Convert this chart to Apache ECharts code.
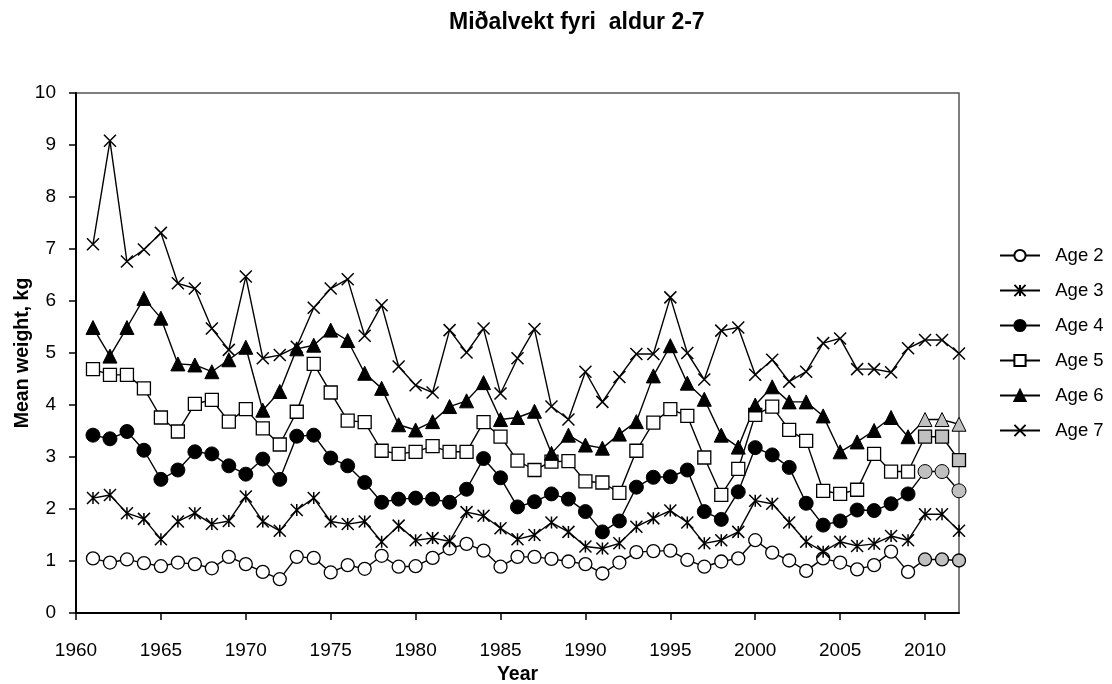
<!DOCTYPE html>
<html>
<head>
<meta charset="utf-8">
<script src="https://cdn.jsdelivr.net/npm/echarts@6/dist/echarts.min.js"></script>
<style>html,body{margin:0;padding:0;background:#fff}#c{width:1112px;height:684px}</style>
</head>
<body>
<div id="c"></div>
<script>
const years = [1961,1962,1963,1964,1965,1966,1967,1968,1969,1970,
1971,1972,1973,1974,1975,1976,1977,1978,1979,1980,
1981,1982,1983,1984,1985,1986,1987,1988,1989,1990,
1991,1992,1993,1994,1995,1996,1997,1998,1999,2000,
2001,2002,2003,2004,2005,2006,2007,2008,2009,2010,
2011,2012];
const age2 = [1.05,0.97,1.03,0.96,0.90,0.97,0.94,0.86,1.08,0.94,
0.79,0.65,1.08,1.06,0.78,0.92,0.85,1.10,0.89,0.90,
1.06,1.24,1.33,1.20,0.89,1.08,1.08,1.04,0.99,0.94,
0.76,0.97,1.17,1.19,1.20,1.02,0.89,0.99,1.05,1.40,
1.16,1.01,0.81,1.05,0.97,0.84,0.92,1.18,0.79,1.03,
1.03,1.01];
const age3 = [2.21,2.27,1.92,1.81,1.42,1.76,1.92,1.71,1.77,2.24,
1.76,1.58,1.98,2.21,1.76,1.71,1.76,1.37,1.68,1.40,
1.44,1.38,1.94,1.87,1.63,1.42,1.50,1.74,1.56,1.28,
1.24,1.34,1.66,1.82,1.97,1.74,1.34,1.40,1.56,2.16,
2.10,1.74,1.37,1.18,1.37,1.29,1.33,1.48,1.40,1.90,
1.90,1.58];
const age4 = [3.42,3.35,3.49,3.13,2.57,2.75,3.10,3.06,2.83,2.67,
2.96,2.57,3.40,3.42,2.98,2.83,2.51,2.13,2.19,2.21,
2.19,2.13,2.38,2.97,2.60,2.04,2.14,2.29,2.19,1.95,
1.56,1.77,2.42,2.61,2.62,2.75,1.95,1.80,2.33,3.18,
3.04,2.80,2.11,1.69,1.77,1.98,1.97,2.10,2.29,2.72,
2.72,2.35];
const age5 = [4.69,4.58,4.58,4.32,3.76,3.49,4.02,4.10,3.68,3.92,
3.55,3.24,3.87,4.79,4.24,3.70,3.67,3.12,3.06,3.10,
3.21,3.10,3.10,3.67,3.39,2.93,2.75,2.91,2.92,2.53,
2.51,2.31,3.12,3.66,3.92,3.79,2.99,2.27,2.77,3.81,
3.97,3.52,3.31,2.35,2.29,2.37,3.06,2.72,2.72,3.39,
3.39,2.94];
const age6 = [5.49,4.94,5.49,6.05,5.67,4.79,4.77,4.64,4.87,5.11,
3.90,4.26,5.08,5.15,5.44,5.24,4.61,4.32,3.62,3.52,
3.68,3.97,4.08,4.43,3.72,3.76,3.88,3.07,3.42,3.23,
3.17,3.44,3.68,4.56,5.14,4.42,4.11,3.42,3.19,4.00,
4.35,4.06,4.06,3.79,3.10,3.29,3.51,3.76,3.39,3.72,
3.72,3.63];
const age7 = [7.09,9.08,6.76,6.99,7.31,6.34,6.24,5.47,5.06,6.47,
4.90,4.96,5.12,5.87,6.24,6.42,5.33,5.92,4.74,4.38,
4.24,5.44,5.01,5.47,4.22,4.90,5.46,3.97,3.72,4.64,
4.06,4.54,4.98,4.98,6.07,5.00,4.49,5.43,5.49,4.58,
4.87,4.45,4.64,5.19,5.28,4.69,4.69,4.63,5.09,5.25,
5.25,4.99];
const seriesNames = ['Age 2','Age 3','Age 4','Age 5','Age 6','Age 7'];
const xTickLabels = [1960,1965,1970,1975,1980,1985,1990,1995,2000,2005,2010];
const provisionalYears = [2010,2011,2012];

const FONT = '"Liberation Sans", Arial, sans-serif';
const GREY = '#c0c0c0';
const ASTER = 'path://M0,0L10,10M10,0L0,10M5,0L5,10';
const CROSS = 'path://M0,0L10,10M10,0L0,10';

function mk(name, vals, symbol, size, fill, stroke, shadeLast) {
  return {
    name: name, type: 'line', symbol: symbol, symbolSize: size,
    showAllSymbol: true,
    lineStyle: {color: '#000', width: 1.4},
    itemStyle: {color: fill, borderColor: '#000', borderWidth: stroke},
    emphasis: {disabled: true},
    animation: false,
    data: years.map((y, i) => {
      const d = {value: [y, vals[i]]};
      if (shadeLast && provisionalYears.indexOf(y) >= 0) d.itemStyle = {color: GREY};
      return d;
    })
  };
}

const chart = echarts.init(document.getElementById('c'), null, {renderer: 'canvas'});
chart.setOption({
  backgroundColor: '#fff',
  textStyle: {fontFamily: FONT},
  title: {
    text: 'Miðalvekt fyri  aldur 2-7', left: 444, top: 6,
    textStyle: {fontFamily: FONT, fontSize: 23, fontWeight: 'bold', color: '#000'}
  },
  grid: {left: 76, right: 153, top: 93, bottom: 71, show: true, borderColor: '#555', borderWidth: 1.5,
    containLabel: false, outerBoundsMode: 'none'},
  legend: {
    orient: 'vertical', left: 994, top: 241, itemWidth: 40, itemHeight: 14, itemGap: 16,
    data: seriesNames,
    formatter: n => '  ' + n,
    textStyle: {fontFamily: FONT, fontSize: 18.5, color: '#000'}
  },
  xAxis: {
    type: 'value', min: 1960, max: 2012, interval: 5,
    name: 'Year', nameLocation: 'middle', nameGap: 52, nameMoveOverlap: false,
    nameTextStyle: {fontFamily: FONT, fontSize: 19.5, fontWeight: 'bold', color: '#000'},
    axisLine: {show: true, lineStyle: {color: '#000', width: 2}},
    axisTick: {show: true, length: 7, lineStyle: {color: '#000', width: 1.5}, customValues: xTickLabels},
    axisLabel: {fontFamily: FONT, fontSize: 19, color: '#000', margin: 28, customValues: xTickLabels,
      formatter: v => String(v)},
    splitLine: {show: false}
  },
  yAxis: {
    type: 'value', min: 0, max: 10, interval: 1,
    name: 'Mean weight, kg', nameLocation: 'middle', nameGap: 43, nameMoveOverlap: false,
    nameTextStyle: {fontFamily: FONT, fontSize: 19.5, fontWeight: 'bold', color: '#000'},
    axisLine: {show: true, lineStyle: {color: '#000', width: 2}},
    axisTick: {show: true, length: 7, lineStyle: {color: '#000', width: 1.5}},
    axisLabel: {fontFamily: FONT, fontSize: 19, color: '#000', margin: 20},
    splitLine: {show: false}
  },
  series: [
    mk(seriesNames[0], age2, 'circle', 13, '#fff', 1.3, true),
    mk(seriesNames[1], age3, ASTER, 12, '#000', 1.5, false),
    mk(seriesNames[2], age4, 'circle', 14, '#000', 1, true),
    mk(seriesNames[3], age5, 'rect', 13, '#fff', 1.3, true),
    mk(seriesNames[4], age6, 'triangle', 14, '#000', 1, true),
    mk(seriesNames[5], age7, CROSS, 12, '#000', 1.5, false)
  ]
});
</script>
</body>
</html>
